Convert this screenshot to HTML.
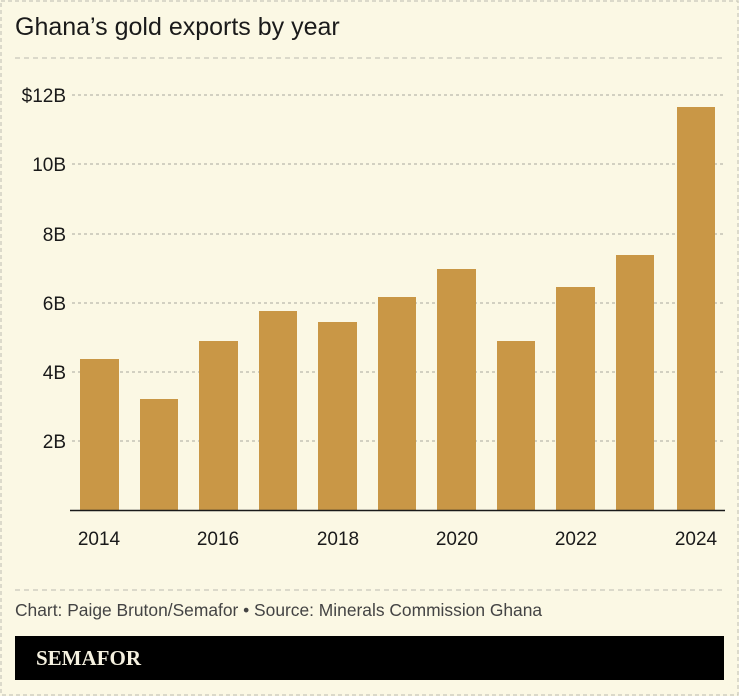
<!DOCTYPE html><html><head><style>body{margin:0;background:#fbf8e4}svg{display:block}</style></head><body>
<svg width="739" height="696" xmlns="http://www.w3.org/2000/svg" font-family="Liberation Sans, sans-serif">
<rect x="0" y="0" width="739" height="696" fill="#fbf8e4"/>
<rect x="1" y="1" width="737" height="694" fill="none" stroke="#c8c6bb" stroke-dasharray="4,3" stroke-width="1.2"/>
<text x="15" y="35" font-size="25" fill="#1a1a1a">Ghana’s gold exports by year</text>
<line x1="15" y1="58" x2="724" y2="58" stroke="#c8c6bb" stroke-dasharray="5,4" stroke-width="1.2"/>
<g stroke="#aaa89e" stroke-dasharray="3,3" stroke-width="1">
<line x1="72" y1="95" x2="724" y2="95"/><line x1="72" y1="164" x2="724" y2="164"/><line x1="72" y1="234" x2="724" y2="234"/><line x1="72" y1="303" x2="724" y2="303"/><line x1="72" y1="372" x2="724" y2="372"/><line x1="72" y1="441" x2="724" y2="441"/>
</g>
<g font-size="19" fill="#1a1a1a" text-anchor="end">
<text x="66" y="102">$12B</text><text x="66" y="171">10B</text><text x="66" y="241">8B</text><text x="66" y="310">6B</text><text x="66" y="379">4B</text><text x="66" y="448">2B</text>
</g>
<g fill="#c99746">
<rect x="80" y="359" width="39" height="151"/><rect x="140" y="399" width="38" height="111"/><rect x="199" y="341" width="39" height="169"/><rect x="259" y="311" width="38" height="199"/><rect x="318" y="322" width="39" height="188"/><rect x="378" y="297" width="38" height="213"/><rect x="437" y="269" width="39" height="241"/><rect x="497" y="341" width="38" height="169"/><rect x="556" y="287" width="39" height="223"/><rect x="616" y="255" width="38" height="255"/><rect x="677" y="107" width="38" height="403"/>
</g>
<line x1="70" y1="510.5" x2="725" y2="510.5" stroke="#1a1a1a" stroke-width="1.5"/>
<g font-size="19" fill="#1a1a1a" text-anchor="middle">
<text x="99" y="545">2014</text><text x="218" y="545">2016</text><text x="338" y="545">2018</text><text x="457" y="545">2020</text><text x="576" y="545">2022</text><text x="696" y="545">2024</text>
</g>
<line x1="15" y1="590" x2="724" y2="590" stroke="#c8c6bb" stroke-dasharray="5,4" stroke-width="1.2"/>
<text x="15" y="616" font-size="17.4" fill="#444">Chart: Paige Bruton/Semafor • Source: Minerals Commission Ghana</text>
<rect x="15" y="636" width="709" height="44" fill="#000"/>
<text x="36" y="665" font-family="Liberation Serif, serif" font-weight="bold" font-size="21" fill="#f5f1e0">SEMAFOR</text>
</svg>
</body></html>
